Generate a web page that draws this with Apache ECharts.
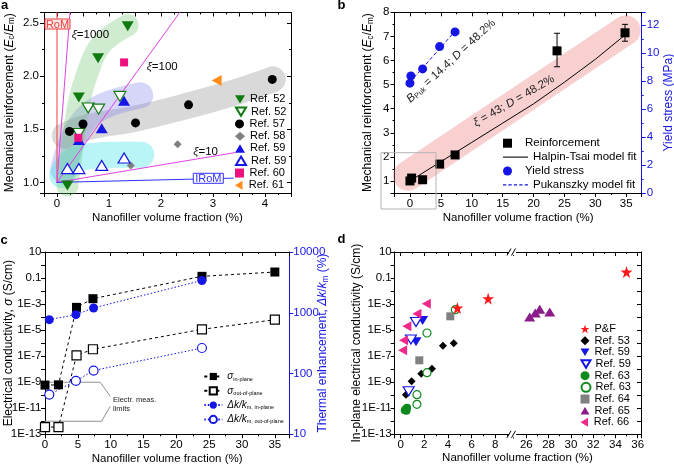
<!DOCTYPE html>
<html>
<head>
<meta charset="utf-8">
<script src="https://cdn.jsdelivr.net/npm/echarts@6/dist/echarts.min.js"></script>
<style>
  html, body { margin: 0; padding: 0; background: #fff; }
  #chart { width: 674px; height: 464px; }
</style>
</head>
<body>
<div id="chart"></div>
<script>
const FONT = 'Liberation Sans, Arial, Helvetica, sans-serif'

// ---- panel a: reinforcement vs volume fraction, literature refs
const aRef52Solid = [[0.2, 0.97], [0.42, 1.8], [0.79, 2.17], [1.36, 2.47]]
const aRef52Open = [[0.42, 1.46], [0.6, 1.7], [0.8, 1.69], [1.21, 1.81]]
const aRef57 = [[0.24, 1.48], [0.5, 1.55], [1.51, 1.56], [2.53, 1.73], [4.14, 1.97]]
const aRef58 = [[1.42, 1.16], [2.32, 1.36]]
const aRef59Solid = [[0.42, 1.4], [0.86, 1.51], [1.29, 1.77]]
const aRef59Open = [[0.2, 1.13], [0.42, 1.13], [0.86, 1.16], [1.29, 1.23]]
const aRef60 = [[0.41, 1.42], [1.29, 2.13]]
const aRef61 = [[3.07, 1.96]]
// model bounds, all start at (0, 1)
const aRoM = [[0, 1], [0, 2.6]]
const aXi1000 = [[0, 1], [0.25, 2.6]]
const aXi100 = [[0, 1], [2.36, 2.6]]
const aXi10 = [[0, 1], [3.42, 1.28]]
const aIRoM = [[0, 1], [3.39, 1.04]]
// shaded guide paths
const aBandGreen = [[0.2, 0.97], [0.3, 1.35], [0.42, 1.75], [0.6, 2.05], [0.85, 2.3], [1.36, 2.48]]
const aBandBlue = [[0.12, 1.12], [0.3, 1.4], [0.55, 1.6], [0.9, 1.72], [1.6, 1.82]]
const aBandGray = [[0.15, 1.44], [0.6, 1.52], [1.5, 1.6], [2.5, 1.72], [3.3, 1.83], [4.15, 1.97]]
const aBandCyan = [[0.1, 1.07], [0.3, 1.2], [0.7, 1.25], [1.2, 1.26], [1.62, 1.26]]

// ---- panel b: this work
const bReinfX = [0, 0.27, 2.05, 4.8, 7.3, 23.8, 34.8]
const bReinf = [1.0, 1.12, 1.05, 1.7, 2.08, 6.4, 7.15]
const bErrX = [23.8, 34.8]
const bErrLow = [5.74, 6.8]
const bErrHigh = [7.13, 7.5]
const bHalpinX = [0, 5, 10, 15, 20, 25, 30, 35]
const bHalpin = [1.0, 1.8, 2.6, 3.4, 4.2, 5.1, 6.05, 7.1]
const bYieldX = [0, 0.15, 2.05, 4.8, 7.3]
const bYield = [7.84, 8.36, 8.86, 10.45, 11.5]
const bPukX = [0, 2, 5, 7.3]
const bPuk = [7.95, 8.9, 10.4, 11.55]
const bBand = [[-0.3, 1.22], [34.9, 7.25]]

// ---- panel c: conductivity (S/cm) and thermal enhancement (%)
const cX = [0, 2.05, 4.8, 7.3, 23.9, 35]
const cSigmaIn = [6e-10, 6.3e-10, 5.6e-4, 2.6e-3, 0.135, 0.29]
const cSigmaOut = [3.6e-13, 3.6e-13, 1.15e-7, 3.4e-7, 1.15e-5, 6.3e-5]
const cKX = [0.65, 4.7, 7.4, 23.9]
const cKIn = [770, 930, 1200, 3400]
const cKOut = [45, 76, 112, 263]
const cLimitHi = [[0, 1e-9], [8.4, 1e-9], [9.9, 8.7e-11]]
const cLimitLo = [[0, 1e-12], [8.6, 1e-12], [9.9, 1.3e-11]]

// ---- panel d: in-plane conductivity (S/cm), broken x axis
const dPF = [[4.8, 5e-4], [7.4, 2.6e-3]]
const dPFHigh = [[35, 0.29]]
const dRef53 = [[0.45, 1.1e-10], [0.93, 1.2e-9], [1.75, 4.5e-9], [2.65, 1.1e-8], [3.58, 6.3e-7], [4.49, 1e-6]]
const dRef59Solid = [[1.86, 5.6e-5], [1.3, 1.26e-6]]
const dRef59Open = [[1.3, 4.2e-5], [0.87, 1.9e-6], [0.68, 2e-10]]
const dRef63Solid = [[0.35, 7e-12], [0.45, 9e-12], [0.55, 1.1e-11], [0.5, 6.5e-12]]
const dRef63Open = [[2.23, 6e-6], [4.63, 3.7e-4], [2.23, 5.4e-9], [1.38, 1.1e-10], [1.38, 2e-11]]
const dRef64 = [[1.58, 4.8e-8], [4.2, 1.15e-4]]
const dRef65 = [[26.3, 1.0e-4], [26.8, 2.1e-4], [27.2, 4e-4], [28.1, 2.5e-4]]
const dRef66 = [[0.17, 2.8e-7], [0.25, 1.66e-6], [0.53, 1.95e-5], [1.38, 1.8e-4], [2.17, 1.07e-3]]

const GREEN = '#0f7a0f'
const BLUE = '#1515e6'
const STAR = 'path://M12,0 L14.9,8.6 L24,8.6 L16.6,14 L19.4,22.8 L12,17.4 L4.6,22.8 L7.4,14 L0,8.6 L9.1,8.6 Z'
const DOWN = 'path://M0,0H12L6,10Z'
const UP = 'path://M6,0L12,10H0Z'
const LEFT = 'path://M10,0V12L0,6Z'
const SQUARE = 'path://M0,0H9V9H0Z'
const SOLID_ICON = 'path://M0,0H25V1.1H0Z'
const DASH_ICON = 'path://M0,0H3V1.1H0Z M5,0H8V1.1H5Z M10,0H13V1.1H10Z M15,0H18V1.1H15Z M20,0H23V1.1H20Z'

const lg = (pts) => pts.map(([x, y]) => [x, Math.log10(y)])
const zip = (xs, ys) => xs.map((x, i) => [x, ys[i]])
const isMult = (v, step) => Math.abs(v / step - Math.round(v / step)) < 1e-6
const stepLabel = (step, digits) => (v) => isMult(v, step) ? v.toFixed(digits) : ''
const logLabel = (v) => {
  if (!isMult(v + 13, 2)) return ''
  const e = Math.round(v)
  if (e === 1) return '10'
  if (e === -1) return '0.1'
  return '1E' + e
}
const powLabel = (v) => isMult(v, 1) ? String(Math.round(Math.pow(10, v))) : ''

const subRich = (color, size) => ({
  i: { fontStyle: 'italic', fontSize: size, fontFamily: FONT, color },
  sub: { fontSize: size * 0.68, fontFamily: FONT, color, padding: [5, 0, 0, 0] }
})

function axis (p) {
  const color = p.color || '#000'
  const ax = {
    type: 'value',
    gridIndex: p.grid,
    position: p.pos,
    min: p.min,
    max: p.max,
    axisLine: { show: true, onZero: false, lineStyle: { color, width: 1 } },
    axisTick: { show: true, inside: !!p.mirror, length: 4, lineStyle: { color } },
    minorTick: { show: p.minor !== 0, splitNumber: p.minor || 2, length: 2, lineStyle: { color } },
    splitLine: { show: false },
    axisLabel: { show: !p.mirror, color, fontSize: 11.5, fontFamily: FONT, margin: p.margin || 5, formatter: p.fmt }
  }
  if (p.interval) ax.interval = p.interval
  if (p.splitNumber) ax.splitNumber = p.splitNumber
  if (p.name) {
    ax.name = p.name
    ax.nameLocation = 'middle'
    ax.nameGap = p.nameGap
    ax.nameMoveOverlap = false
    ax.nameTextStyle = { color, fontSize: p.nameSize || 12, fontFamily: FONT, rich: subRich(color, p.nameSize || 12) }
  }
  return ax
}

function scatter (name, xi, yi, data, symbol, size, color, open, rotate) {
  return {
    name, type: 'scatter', xAxisIndex: xi, yAxisIndex: yi, data,
    symbol, symbolSize: size, symbolRotate: rotate || 0, z: 5,
    itemStyle: open
      ? { color: '#fff', borderColor: color, borderWidth: 1.2, opacity: 1 }
      : { color, borderWidth: 0, opacity: 1 },
    emphasis: { disabled: true }
  }
}

function line (name, xi, yi, data, color, width, type, z) {
  return {
    name, type: 'line', xAxisIndex: xi, yAxisIndex: yi, data,
    symbol: 'none', z: z || 3, silent: true,
    lineStyle: { color, width, type: type || 'solid', cap: 'round', join: 'round' },
    itemStyle: { color },
    emphasis: { disabled: true }
  }
}

function band (data, color, width, xi, yi) {
  const s = line(undefined, xi, yi, data, color, width, 'solid', 1)
  s.smooth = 0.4
  return s
}

function marked (name, xi, yi, data, symbol, size, color, open, dash) {
  return {
    name, type: 'line', xAxisIndex: xi, yAxisIndex: yi, data,
    symbol, symbolSize: size, showSymbol: true, z: 4,
    lineStyle: { color, width: 1, type: dash },
    itemStyle: open ? { color: '#fff', borderColor: color, borderWidth: 1.2 } : { color },
    emphasis: { disabled: true }
  }
}

const legendText = {
  a52s: 'Ref. 52', a52o: 'Ref. 52', a57: 'Ref. 57', a58: 'Ref. 58',
  a59s: 'Ref. 59', a59o: 'Ref. 59', a60: 'Ref. 60', a61: 'Ref. 61',
  bReinf: 'Reinforcement', bHalpin: 'Halpin-Tsai model fit', bYield: 'Yield stress', bPuk: 'Pukanszky model fit',
  cSin: '{s|σ}{sub|in-plane}', cSout: '{s|σ}{sub|out-of-plane}',
  cKin: '{s|Δk/k}{sub|m, in-plane}', cKout: '{s|Δk/k}{sub|m, out-of-plane}',
  dPF: 'P&F', d53: 'Ref. 53', d59s: 'Ref. 59', d59o: 'Ref. 59', d63s: 'Ref. 63', d63o: 'Ref. 63',
  d64: 'Ref. 64', d65: 'Ref. 65', d66: 'Ref. 66'
}

// one legend component per row so that row pitch is exact
function legendRows (items, left, firstCenter, pitch, itemWidth, itemHeight, textStyle) {
  return items.map((it, i) => ({
    data: [typeof it === 'string' ? { name: it } : it],
    orient: 'vertical', padding: 0, selectedMode: false,
    left, top: firstCenter + i * pitch - itemHeight / 2,
    itemWidth, itemHeight,
    formatter: (n) => legendText[n],
    textStyle: Object.assign({ fontSize: 11, fontFamily: FONT, color: '#000' }, textStyle)
  }))
}

const text = (x, y, str, opts) => Object.assign({
  type: 'text', x, y, z: 100, silent: true,
  style: Object.assign({
    text: str, fill: '#000', fontSize: 11.5, fontFamily: FONT,
    align: 'left', textAlign: 'left', verticalAlign: 'middle', textVerticalAlign: 'middle'
  }, opts && opts.style)
}, opts && opts.el)

const grids = [
  { left: 44, top: 12.5, width: 247, height: 180.5 },
  { left: 394.5, top: 12.3, width: 247.2, height: 180.7 },
  { left: 45, top: 252, width: 244.3, height: 182.3 },
  { left: 394.7, top: 252, width: 118.3, height: 182.3 },
  { left: 513, top: 252, width: 128, height: 182.3 }
].map((g) => Object.assign({ containLabel: false, outerBoundsMode: 'none' }, g))

const xAxes = [
  axis({ grid: 0, pos: 'bottom', min: -0.25, max: 4.5, splitNumber: 10, fmt: stepLabel(1, 0),
    name: 'Nanofiller volume fraction (%)', nameGap: 19, nameSize: 11.5 }),
  axis({ grid: 0, pos: 'top', min: -0.25, max: 4.5, splitNumber: 10, mirror: true }),
  axis({ grid: 1, pos: 'bottom', min: -2.5, max: 37.5, splitNumber: 8, fmt: stepLabel(5, 0),
    name: 'Nanofiller volume fraction (%)', nameGap: 19, nameSize: 11.5 }),
  axis({ grid: 1, pos: 'top', min: -2.5, max: 37.5, splitNumber: 8, mirror: true }),
  axis({ grid: 2, pos: 'bottom', min: 0, max: 37.2, interval: 5, fmt: stepLabel(5, 0),
    name: 'Nanofiller volume fraction (%)', nameGap: 18.5, nameSize: 11.5 }),
  axis({ grid: 2, pos: 'top', min: 0, max: 37.2, interval: 5, mirror: true }),
  axis({ grid: 3, pos: 'bottom', min: -0.5, max: 9.5, splitNumber: 5, fmt: stepLabel(2, 0) }),
  axis({ grid: 3, pos: 'top', min: -0.5, max: 9.5, splitNumber: 5, mirror: true }),
  axis({ grid: 4, pos: 'bottom', min: 24.8, max: 36.3, splitNumber: 5, fmt: stepLabel(2, 0) }),
  axis({ grid: 4, pos: 'top', min: 24.8, max: 36.3, splitNumber: 5, mirror: true })
]

const yAxes = [
  axis({ grid: 0, pos: 'left', min: 0.9, max: 2.6, splitNumber: 4, fmt: stepLabel(0.5, 1),
    name: 'Mechanical reinforcement ({i|E}{sub|c}/{i|E}{sub|m})', nameGap: 28 }),
  axis({ grid: 0, pos: 'right', min: 0.9, max: 2.6, splitNumber: 4, mirror: true }),
  axis({ grid: 1, pos: 'left', min: 0.5, max: 8, splitNumber: 8, fmt: stepLabel(1, 0),
    name: 'Mechanical reinforcement ({i|E}{sub|c}/{i|E}{sub|m})', nameGap: 20 }),
  axis({ grid: 1, pos: 'right', min: 0, max: 12.9, interval: 2, fmt: stepLabel(2, 0), color: BLUE,
    name: 'Yield stress (MPa)', nameGap: 21 }),
  axis({ grid: 2, pos: 'left', min: -13, max: 1, interval: 1, minor: 0, fmt: logLabel, margin: 3.5,
    name: 'Electrical conductivity, {i|σ} (S/cm)', nameGap: 30 }),
  axis({ grid: 2, pos: 'right', min: 1, max: 4, interval: 1, fmt: powLabel, color: BLUE, margin: 4,
    minor: 0, name: 'Thermal enhancement, {i|Δk}/{i|k}{sub|m} (%)', nameGap: 27 }),
  axis({ grid: 3, pos: 'left', min: -13, max: 1, interval: 1, minor: 0, fmt: logLabel, margin: 3,
    name: 'In-plane electrical conductivity (S/cm)', nameGap: 32 }),
  axis({ grid: 4, pos: 'right', min: -13, max: 1, interval: 1, minor: 0, mirror: true })
]

const series = [
  // panel a
  band(aBandGray, 'rgba(140,140,140,0.33)', 26, 0, 0),
  band(aBandBlue, 'rgba(120,120,235,0.30)', 26, 0, 0),
  band(aBandCyan, 'rgba(70,225,235,0.38)', 26, 0, 0),
  band(aBandGreen, 'rgba(110,195,110,0.32)', 22, 0, 0),
  line(undefined, 0, 0, aRoM, '#f03c3c', 1),
  line(undefined, 0, 0, aXi1000, '#e040e0', 1),
  line(undefined, 0, 0, aXi100, '#e040e0', 1),
  line(undefined, 0, 0, aXi10, '#e040e0', 1),
  line(undefined, 0, 0, aIRoM, '#3030ff', 1),
  scatter('a52s', 0, 0, aRef52Solid, 'triangle', [12, 10], GREEN, false, 180),
  scatter('a52o', 0, 0, aRef52Open, 'triangle', [12, 10], GREEN, true, 180),
  scatter('a57', 0, 0, aRef57, 'circle', 9, '#000'),
  scatter('a58', 0, 0, aRef58, 'diamond', 8, '#808080'),
  scatter('a59s', 0, 0, aRef59Solid, 'triangle', [12, 10], BLUE),
  scatter('a59o', 0, 0, aRef59Open, 'triangle', [12, 10], BLUE, true),
  scatter('a60', 0, 0, aRef60, 'rect', 8, '#ee1180'),
  scatter('a61', 0, 0, aRef61, 'triangle', [11, 10], '#ff8c1a', false, 90),
  // panel b
  band(bBand, 'rgba(235,110,110,0.32)', 30, 2, 2),
  line('bHalpin', 2, 2, zip(bHalpinX, bHalpin), '#000', 1),
  line('bPuk', 2, 3, zip(bPukX, bPuk), BLUE, 1, [3, 3]),
  {
    type: 'custom', xAxisIndex: 2, yAxisIndex: 2, z: 4, silent: true,
    data: bErrX.map((x, i) => [x, bErrLow[i], bErrHigh[i]]),
    encode: { x: 0, y: [1, 2] },
    renderItem: (params, api) => {
      const lo = api.coord([api.value(0), api.value(1)])
      const hi = api.coord([api.value(0), api.value(2)])
      const cap = 3
      const st = { stroke: '#000', lineWidth: 1 }
      return {
        type: 'group',
        children: [
          { type: 'line', shape: { x1: lo[0], y1: lo[1], x2: hi[0], y2: hi[1] }, style: st },
          { type: 'line', shape: { x1: lo[0] - cap, y1: lo[1], x2: lo[0] + cap, y2: lo[1] }, style: st },
          { type: 'line', shape: { x1: hi[0] - cap, y1: hi[1], x2: hi[0] + cap, y2: hi[1] }, style: st }
        ]
      }
    }
  },
  scatter('bReinf', 2, 2, zip(bReinfX, bReinf), 'rect', 9, '#000'),
  scatter('bYield', 2, 3, zip(bYieldX, bYield), 'circle', 9, BLUE),
  // panel c
  line(undefined, 4, 4, lg(cLimitHi), '#909090', 1),
  line(undefined, 4, 4, lg(cLimitLo), '#909090', 1),
  marked('cSin', 4, 4, lg(zip(cX, cSigmaIn)), 'rect', 9, '#000', false, [3, 3]),
  marked('cSout', 4, 4, lg(zip(cX, cSigmaOut)), 'rect', 9, '#000', true, [3, 3]),
  marked('cKin', 4, 5, lg(zip(cKX, cKIn)), 'circle', 9, BLUE, false, [1.5, 2]),
  marked('cKout', 4, 5, lg(zip(cKX, cKOut)), 'circle', 9, BLUE, true, [1.5, 2]),
  // panel d
  scatter('d53', 6, 6, lg(dRef53), 'diamond', 8, '#000'),
  scatter('d59s', 6, 6, lg(dRef59Solid), 'triangle', [11, 9], BLUE, false, 180),
  scatter('d59o', 6, 6, lg(dRef59Open), 'triangle', [11, 9], BLUE, true, 180),
  scatter('d63s', 6, 6, lg(dRef63Solid), 'circle', 8, '#0f8a1f'),
  scatter('d63o', 6, 6, lg(dRef63Open), 'circle', 8, '#0f8a1f', true),
  scatter('d64', 6, 6, lg(dRef64), 'rect', 8, '#808080'),
  scatter('d66', 6, 6, lg(dRef66), 'triangle', [10, 9], '#f0288c', false, 90),
  scatter('dPF', 6, 6, lg(dPF), STAR, 12, '#ff1a1a'),
  scatter('d65', 8, 7, lg(dRef65), 'triangle', [11, 9], '#8b1a8b'),
  scatter('dPFHigh', 8, 7, lg(dPFHigh), STAR, 12, '#ff1a1a')
]

const legends = [].concat(
  legendRows([
    { name: 'a52s', icon: DOWN }, { name: 'a52o', icon: DOWN }, 'a57', 'a58',
    { name: 'a59s', icon: UP }, { name: 'a59o', icon: UP }, { name: 'a60', icon: SQUARE }, { name: 'a61', icon: LEFT }
  ], 235, 98.3, 12.29, 10, 9),
  legendRows([
    { name: 'bReinf', icon: SQUARE }, { name: 'bHalpin', icon: SOLID_ICON },
    'bYield', { name: 'bPuk', icon: DASH_ICON }
  ], 503, 141.7, 13.9, 25, 9, { fontSize: 11.5 }),
  legendRows(['cSin', 'cSout', 'cKin', 'cKout'], 203.3, 376, 14.3, 18, 9, {
    rich: {
      s: { fontSize: 10, fontStyle: 'italic', fontFamily: FONT, color: '#000' },
      sub: { fontSize: 5.5, fontFamily: FONT, color: '#000', padding: [5, 0, 0, 0] }
    }
  }),
  legendRows([
    { name: 'dPF', icon: STAR }, 'd53', { name: 'd59s', icon: DOWN }, { name: 'd59o', icon: DOWN },
    'd63s', 'd63o', { name: 'd64', icon: SQUARE }, { name: 'd65', icon: UP }, { name: 'd66', icon: LEFT }
  ], 580.5, 328, 11.67, 9, 9)
)

const italicRich = {
  i: { fontStyle: 'italic', fontSize: 11.5, fontFamily: FONT, fill: '#222', color: '#222' },
  sub: { fontSize: 7.5, fontFamily: FONT, fill: '#222', color: '#222', padding: [5, 0, 0, 0] }
}

const graphics = [
  text(1, 5.5, 'a', { style: { fontWeight: 'bold', fontSize: 13 } }),
  text(337.5, 5, 'b', { style: { fontWeight: 'bold', fontSize: 13 } }),
  text(0.5, 240, 'c', { style: { fontWeight: 'bold', fontSize: 13 } }),
  text(337.5, 239.5, 'd', { style: { fontWeight: 'bold', fontSize: 13 } }),
  // panel a annotations
  { type: 'rect', z: 99, silent: true, shape: { x: 45, y: 19, width: 25, height: 10 },
    style: { fill: '#fde6e6', stroke: '#f03c3c', lineWidth: 1 } },
  text(57.5, 24.5, 'RoM', { style: { fill: '#f03c3c', align: 'center', textAlign: 'center', fontSize: 11 } }),
  text(71.7, 35, '{i|ξ}=1000', { style: { rich: italicRich, fill: '#000' } }),
  text(146.7, 67, '{i|ξ}=100', { style: { rich: italicRich, fill: '#000' } }),
  text(193.3, 151.7, '{i|ξ}=10', { style: { rich: italicRich, fill: '#000' } }),
  { type: 'rect', z: 99, silent: true, shape: { x: 193.3, y: 173.3, width: 30, height: 10 },
    style: { fill: '#fff', stroke: '#3030ff', lineWidth: 1 } },
  text(208.3, 178.5, 'IRoM', { style: { fill: '#3030ff', align: 'center', textAlign: 'center', fontSize: 11 } }),
  // panel b annotations
  { type: 'rect', z: 99, silent: true, shape: { x: 381, y: 152.7, width: 55, height: 56.3 },
    style: { fill: 'none', stroke: '#b4b4b4', lineWidth: 1 } },
  text(451, 61, '{i|B}{sub|Puk} = 14.4; {i|D} = 48.2%', {
    style: { rich: italicRich, fill: '#222', align: 'center', textAlign: 'center' },
    el: { rotation: 42.8 * Math.PI / 180 } }),
  text(514, 101, '{i|ξ} = 43; {i|D} = 48.2%', {
    style: { rich: italicRich, fill: '#222', align: 'center', textAlign: 'center' },
    el: { rotation: 30 * Math.PI / 180 } }),
  // panel c annotation
  text(113, 404, 'Electr. meas.\nlimits', { style: { fontSize: 7.5, lineHeight: 9, fill: '#222' } }),
  // panel d broken axis marks and shared x title
  { type: 'rect', z: 99, silent: true, shape: { x: 509, y: 249, width: 7, height: 6 }, style: { fill: '#fff' } },
  { type: 'rect', z: 99, silent: true, shape: { x: 509, y: 431.3, width: 7, height: 6 }, style: { fill: '#fff' } },
  { type: 'line', z: 100, silent: true, shape: { x1: 507, y1: 255.5, x2: 511, y2: 248.5 }, style: { stroke: '#000' } },
  { type: 'line', z: 100, silent: true, shape: { x1: 511.5, y1: 255.5, x2: 515.5, y2: 248.5 }, style: { stroke: '#000' } },
  { type: 'line', z: 100, silent: true, shape: { x1: 507, y1: 437.8, x2: 511, y2: 430.8 }, style: { stroke: '#000' } },
  { type: 'line', z: 100, silent: true, shape: { x1: 511.5, y1: 437.8, x2: 515.5, y2: 430.8 }, style: { stroke: '#000' } },
  text(517.5, 457.7, 'Nanofiller volume fraction (%)', { style: { align: 'center', textAlign: 'center' } })
]

const chart = echarts.init(document.getElementById('chart'))
chart.setOption({
  animation: false,
  backgroundColor: '#fff',
  textStyle: { fontFamily: FONT },
  grid: grids,
  xAxis: xAxes,
  yAxis: yAxes,
  legend: legends,
  series,
  graphic: graphics
})
</script>
</body>
</html>
